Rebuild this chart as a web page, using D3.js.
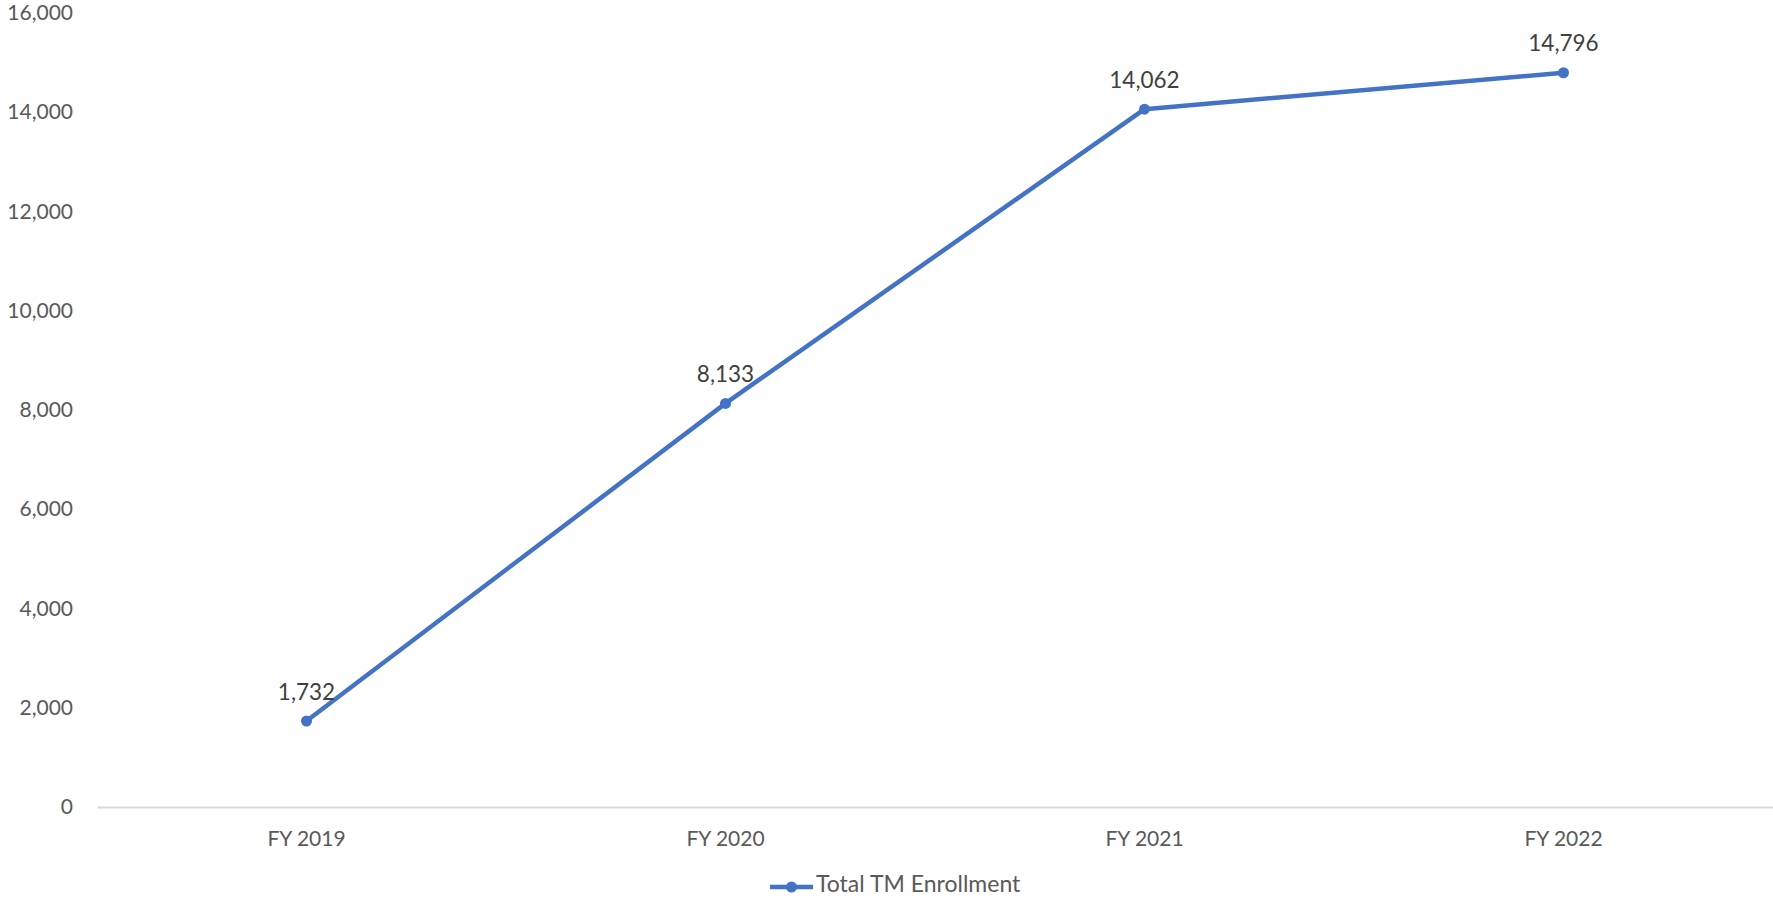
<!DOCTYPE html>
<html>
<head>
<meta charset="utf-8">
<script src="https://cdn.jsdelivr.net/npm/d3@7"></script>
<style>
  html, body { margin: 0; padding: 0; background: #fff; }
  svg { display: block; }
  text { font-family: Lato, "Open Sans", sans-serif; }
</style>
</head>
<body>
<svg id="chart" width="1773" height="898"></svg>
<script>
const categories = ["FY 2019", "FY 2020", "FY 2021", "FY 2022"];
const enrollment = [1732, 8133, 14062, 14796];
const yTicks = [0, 2000, 4000, 6000, 8000, 10000, 12000, 14000, 16000];
const seriesName = "Total TM Enrollment";

const W = 1773, H = 898;
const plot = { left: 97, right: 1773, top: 13, bottom: 807 };
const svg = d3.select("#chart");

const x = d3.scaleBand().domain(categories).range([plot.left, plot.right]);
const y = d3.scaleLinear().domain([0, 16000]).range([plot.bottom, plot.top]);
const fmt = d3.format(",");
const lineColor = "#4472C4";

// Y axis labels
const yAxis = d3.axisLeft(y).tickValues(yTicks).tickFormat(fmt).tickSize(0).tickPadding(0);
const gy = svg.append("g").attr("transform", `translate(${plot.left - 24},0)`).call(yAxis);
gy.select(".domain").remove();
gy.selectAll("text").attr("font-size", 21).attr("fill", "#595959")
  .style("font-family", "Lato, 'Open Sans', sans-serif");

// X axis
const xAxis = d3.axisBottom(x).tickSize(0).tickPadding(24);
const gx = svg.append("g").attr("transform", `translate(0,${plot.bottom})`).call(xAxis);
gx.select(".domain").attr("stroke", "#d9d9d9").attr("stroke-width", 2);
gx.selectAll("text").attr("font-size", 21).attr("fill", "#595959")
  .style("font-family", "Lato, 'Open Sans', sans-serif");

const cx = d => x(d) + x.bandwidth() / 2;
const pts = categories.map((c, i) => ({ c, v: enrollment[i] }));

// Line
svg.append("path")
  .datum(pts)
  .attr("fill", "none")
  .attr("stroke", lineColor)
  .attr("stroke-width", 4.5)
  .attr("stroke-linejoin", "round")
  .attr("stroke-linecap", "round")
  .attr("d", d3.line().x(d => cx(d.c)).y(d => y(d.v)));

// Markers
svg.selectAll("circle.pt").data(pts).join("circle")
  .attr("class", "pt")
  .attr("cx", d => cx(d.c)).attr("cy", d => y(d.v))
  .attr("r", 5.5).attr("fill", lineColor);

// Data labels
svg.selectAll("text.lbl").data(pts).join("text")
  .attr("class", "lbl")
  .attr("x", d => cx(d.c)).attr("y", d => y(d.v) - 30)
  .attr("text-anchor", "middle").attr("dominant-baseline", "central")
  .attr("font-size", 22.5).attr("fill", "#404040")
  .text(d => fmt(d.v));

// Legend
const lg = svg.append("g").attr("transform", "translate(770,887)");
lg.append("line").attr("x1", 0).attr("x2", 43).attr("y1", 0).attr("y2", 0)
  .attr("stroke", lineColor).attr("stroke-width", 4.5);
lg.append("circle").attr("cx", 21.5).attr("cy", 0).attr("r", 5.5).attr("fill", lineColor);
lg.append("text").attr("x", 46).attr("y", -4).attr("dominant-baseline", "central")
  .attr("font-size", 23).attr("fill", "#595959").text(seriesName);
</script>
</body>
</html>
